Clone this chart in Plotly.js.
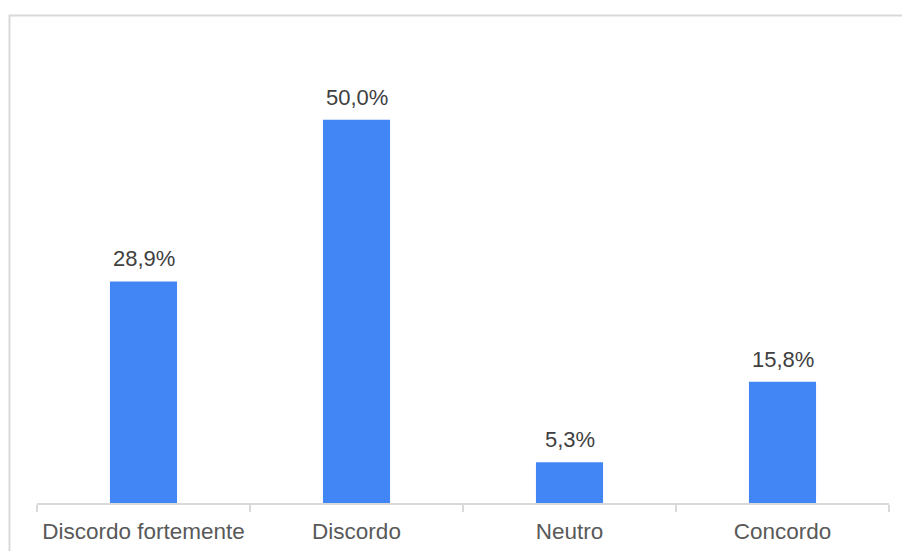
<!DOCTYPE html>
<html>
<head>
<meta charset="utf-8">
<script src="https://cdn.plot.ly/plotly-3.0.1.min.js"></script>
<style>html,body{margin:0;padding:0;background:#fff;}#chart{width:902px;height:551px;}</style>
</head>
<body>
<div id="chart"></div>
<script>
const categories = ["Discordo fortemente", "Discordo", "Neutro", "Concordo"];
const values = [28.9, 50.0, 5.3, 15.8];
const labels = values.map(v => v.toFixed(1).replace('.', ',') + '%');

const FONT = 'Liberation Sans, Arial, sans-serif';

const trace = {
  type: 'bar',
  x: categories,
  y: values,
  marker: {color: '#4285f4'},
  hoverinfo: 'x+y'
};

const annotations = categories.map((c, i) => ({
  x: c, y: values[i], xref: 'x', yref: 'y',
  text: labels[i], showarrow: false,
  yanchor: 'bottom', yshift: 8,
  font: {family: FONT, size: 22, color: '#404040'}
}));

const layout = {
  width: 902, height: 551,
  margin: {l: 37, r: 13, t: 43, b: 48},
  paper_bgcolor: '#fff', plot_bgcolor: '#fff',
  bargap: 0.685,
  showlegend: false,
  font: {family: FONT, size: 22, color: '#595959'},
  xaxis: {
    showline: true, linecolor: '#d9d9d9', linewidth: 2,
    ticks: 'outside', tickson: 'boundaries', ticklen: 7, tickcolor: '#d9d9d9', tickwidth: 2,
    ticklabelstandoff: 7,
    tickfont: {family: FONT, size: 22.5, color: '#595959'},
    showgrid: false, zeroline: false
  },
  yaxis: {
    range: [0, 60], showticklabels: false, showgrid: false, zeroline: false, showline: false, ticks: ''
  },
  annotations: annotations,
  shapes: [{
    type: 'rect', xref: 'paper', yref: 'paper',
    x0: -27.5/852, x1: 1.2, y0: -0.3, y1: (503-15.5)/460,
    line: {color: '#d9d9d9', width: 2}, fillcolor: 'rgba(0,0,0,0)', layer: 'below'
  }]
};

Plotly.newPlot('chart', [trace], layout, {displayModeBar: false, responsive: false});
</script>
</body>
</html>
